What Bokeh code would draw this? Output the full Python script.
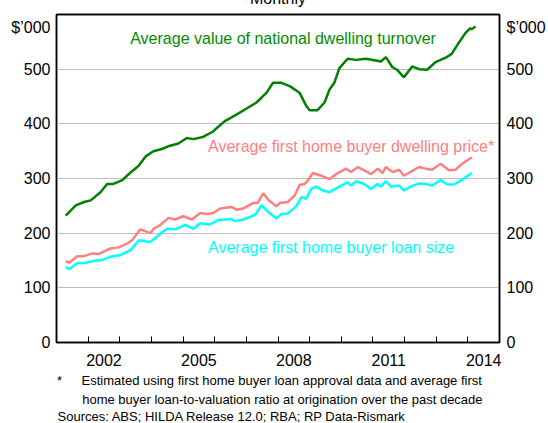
from bokeh.plotting import figure
from bokeh.models import Range1d, LinearAxis, FixedTicker, Label, Grid, Title
from bokeh.embed import file_html
from bokeh.resources import INLINE

# ---------------- data ----------------
turnover_dates = [
    2001.29, 2001.61, 2001.87, 2002.08, 2002.39, 2002.60, 2002.80, 2003.08,
    2003.34, 2003.59, 2003.81, 2004.06, 2004.33, 2004.59, 2004.85, 2005.12,
    2005.32, 2005.63, 2005.95, 2006.06, 2006.32, 2006.63, 2007.01, 2007.32,
    2007.64, 2007.84, 2008.11, 2008.37, 2008.68, 2008.89, 2009.00, 2009.25,
    2009.47, 2009.63, 2009.78, 2009.94, 2010.20, 2010.47, 2010.78, 2011.09,
    2011.25, 2011.41, 2011.61, 2011.76, 2011.98, 2012.24, 2012.46, 2012.71,
    2012.98, 2013.30, 2013.49, 2013.71, 2013.92, 2014.08, 2014.12, 2014.24]
turnover_values = [
    232, 251, 257, 260, 275, 290, 290, 297,
    311, 323, 340, 350, 354, 360, 364, 374,
    372, 376, 386, 392, 405, 415, 428, 439,
    457, 475, 475, 469, 457, 433, 425, 425,
    439, 463, 475, 502, 519, 517, 519, 516,
    514, 522, 504, 499, 485, 505, 500, 499,
    513, 521, 528, 548, 566, 575, 573, 578]

price_dates = [
    2001.29, 2001.40, 2001.66, 2001.87, 2002.13, 2002.34, 2002.71, 2002.97,
    2003.23, 2003.39, 2003.65, 2003.97, 2004.07, 2004.28, 2004.54, 2004.75,
    2005.01, 2005.28, 2005.54, 2005.75, 2005.96, 2006.17, 2006.53, 2006.69,
    2006.90, 2007.21, 2007.36, 2007.53, 2007.69, 2007.95, 2008.05, 2008.31,
    2008.53, 2008.68, 2008.84, 2008.94, 2009.10, 2009.37, 2009.63, 2009.89,
    2010.15, 2010.31, 2010.52, 2010.73, 2010.94, 2011.15, 2011.30, 2011.41,
    2011.62, 2011.83, 2011.98, 2012.19, 2012.46, 2012.67, 2012.87, 2013.14,
    2013.40, 2013.61, 2013.82, 2013.97, 2014.13]
price_values = [
    149, 146, 158, 158, 163, 162, 172, 174,
    181, 187, 207, 200, 208, 215, 228, 225,
    231, 225, 237, 235, 237, 245, 248, 243,
    245, 255, 255, 273, 261, 249, 255, 257,
    269, 288, 290, 296, 310, 305, 299, 310,
    318, 312, 321, 315, 308, 318, 310, 321,
    312, 316, 305, 312, 321, 318, 316, 327,
    315, 316, 327, 333, 339]

loan_dates = [
    2001.29, 2001.40, 2001.66, 2001.92, 2002.24, 2002.45, 2002.71, 2003.02,
    2003.34, 2003.60, 2003.97, 2004.28, 2004.49, 2004.75, 2005.07, 2005.33,
    2005.54, 2005.85, 2006.11, 2006.53, 2006.64, 2006.90, 2007.27, 2007.48,
    2007.69, 2007.95, 2008.11, 2008.31, 2008.58, 2008.74, 2008.89, 2009.05,
    2009.21, 2009.42, 2009.63, 2009.94, 2010.20, 2010.31, 2010.47, 2010.73,
    2010.94, 2011.15, 2011.25, 2011.41, 2011.57, 2011.83, 2011.98, 2012.19,
    2012.46, 2012.67, 2012.87, 2013.14, 2013.35, 2013.56, 2013.77, 2013.92,
    2014.13]
loan_values = [
    138, 134, 145, 146, 150, 151, 157, 160,
    169, 187, 184, 199, 208, 207, 215, 208,
    218, 216, 224, 226, 222, 225, 233, 251,
    239, 227, 235, 236, 249, 266, 263, 281,
    285, 278, 275, 285, 293, 287, 295, 290,
    281, 290, 285, 295, 285, 287, 278, 285,
    291, 290, 287, 297, 289, 289, 296, 302,
    310]

y_ticks = [0, 100, 200, 300, 400, 500]
unit_tick = 577            # where the "$'000" unit label sits on both value axes
year_ticks = list(range(2002, 2015))
year_labels = ["2002", "2005", "2008", "2011", "2014"]

series_names = ["Average value of national dwelling turnover",
                "Average first home buyer dwelling price*",
                "Average first home buyer loan size"]
title_text = "Monthly"
unit_text = "$\u2019000"
footnote_lines = ["*\u2003\u2002Estimated using first home buyer loan approval data and average first",
                  "home buyer loan-to-valuation ratio at origination over the past decade"]
sources_text = "Sources: ABS; HILDA Release 12.0; RBA; RP Data-Rismark"

# ---------------- styling ----------------
FONT = "Liberation Sans"
GREEN = "#008000"
GREEN_TXT = "#008C00"
PINK = "#FF8080"
CYAN = "#00FFFF"

X0, X1 = 2001, 2015
Y0, Y1 = 0, 600
SHIFT = 20   # canvas is lifted by this many px so the cropped title sits at the window top

p = figure(width=548, height=423 + SHIFT, output_backend="svg", toolbar_location=None,
           x_range=Range1d(X0, X1), y_range=Range1d(Y0, Y1),
           x_axis_type=None, y_axis_type=None,
           min_border_left=56, min_border_right=47,
           min_border_top=14 + SHIFT, min_border_bottom=81,
           background_fill_color="white", border_fill_color="white",
           styles={"position": "absolute", "top": f"-{SHIFT}px", "left": "0px"})
p.outline_line_color = "black"
p.outline_line_width = 1.5

# horizontal grid
p.add_layout(Grid(dimension=1, ticker=FixedTicker(ticks=y_ticks[1:]),
                  grid_line_color="#BDBDBD", grid_line_width=1))

# bottom axis: year-boundary ticks (minor), mid-year labels (major)
label_pos = [int(s) + 0.5 for s in year_labels]
xaxis = LinearAxis(ticker=FixedTicker(ticks=label_pos, minor_ticks=year_ticks),
                   major_label_overrides={v: s for v, s in zip(label_pos, year_labels)},
                   major_tick_in=0, major_tick_out=0,
                   minor_tick_in=6, minor_tick_out=0,
                   minor_tick_line_color="black", minor_tick_line_width=1,
                   axis_line_color="black", axis_line_width=1.5,
                   major_label_text_font=FONT, major_label_text_font_size="16px",
                   major_label_text_color="black", major_label_standoff=11)
p.add_layout(xaxis, "below")

# top border line, carrying the (cropped) "Monthly" title
mid = (X0 + X1) / 2
top = LinearAxis(ticker=FixedTicker(ticks=[mid]),
                 major_label_overrides={mid: title_text},
                 major_tick_in=0, major_tick_out=0,
                 minor_tick_in=0, minor_tick_out=0, major_label_standoff=8,
                 major_label_text_font=FONT, major_label_text_font_size="16px",
                 major_label_text_color="black",
                 axis_line_color="black", axis_line_width=1.5)
p.add_layout(top, "above")

for side, standoff in (("left", 6), ("right", 7)):
    ax = LinearAxis(ticker=FixedTicker(ticks=y_ticks + [unit_tick]),
                    major_label_overrides={unit_tick: unit_text},
                    major_tick_in=0, major_tick_out=0,
                    minor_tick_in=0, minor_tick_out=0,
                    axis_line_color="black", axis_line_width=1.5,
                    major_label_text_font=FONT, major_label_text_font_size="16px",
                    major_label_text_color="black", major_label_standoff=standoff)
    p.add_layout(ax, side)

# series
p.line(turnover_dates, turnover_values, line_color=GREEN, line_width=2.5)
p.line(price_dates, price_values, line_color=PINK, line_width=2.5)
p.line(loan_dates, loan_values, line_color=CYAN, line_width=2.5)

def data_label(x, y, text, color):
    p.add_layout(Label(x=x, y=y, x_units="data", y_units="data", text=text,
                       text_font=FONT, text_font_size="16px", text_color=color,
                       text_align="left", text_baseline="middle"))

# series labels
data_label(2003.33, 557, series_names[0], GREEN_TXT)
data_label(2005.79, 359, series_names[1], PINK)
data_label(2005.79, 173, series_names[2], CYAN)

# footnotes as stacked titles under the x axis
def foot(text, offset, standoff):
    p.add_layout(Title(text=text, align="left", offset=offset, standoff=standoff,
                       text_font=FONT, text_font_size="13px", text_font_style="normal",
                       text_color="black"), "below")

foot(footnote_lines[0], 0.5, 4)
foot(footnote_lines[1], 25.7, 0)
foot(sources_text, 1, 0)

open("out.html", "w").write(file_html(p, INLINE))
